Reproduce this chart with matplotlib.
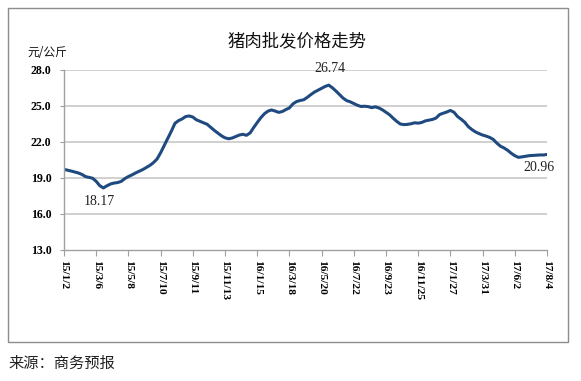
import matplotlib
matplotlib.use("Agg")
import matplotlib.pyplot as plt
from matplotlib.patches import Rectangle

tick_labels = ["15/1/2", "15/3/6", "15/5/8", "15/7/10", "15/9/11", "15/11/13",
               "16/1/15", "16/3/18", "16/5/20", "16/7/22", "16/9/23", "16/11/25",
               "17/1/27", "17/3/31", "17/6/2", "17/8/4"]

# weekly wholesale pork price (yuan/kg), 15/1/2 .. 17/8/4
prices = [
    19.72, 19.65, 19.58, 19.50, 19.42, 19.30, 19.12, 19.05, 18.98, 18.72,
    18.36, 18.17, 18.35, 18.50, 18.58, 18.62, 18.72, 18.95, 19.12, 19.26,
    19.42, 19.56, 19.70, 19.87, 20.05, 20.28, 20.58, 21.10, 21.70, 22.30,
    22.90, 23.55, 23.78, 23.92, 24.12, 24.17, 24.08, 23.85, 23.72, 23.60,
    23.48, 23.22, 22.97, 22.75, 22.52, 22.35, 22.27, 22.33, 22.46, 22.58,
    22.64, 22.56, 22.75, 23.20, 23.62, 24.02, 24.35, 24.57, 24.67, 24.58,
    24.47, 24.54, 24.70, 24.84, 25.18, 25.37, 25.46, 25.52, 25.72, 25.95,
    26.16, 26.32, 26.48, 26.63, 26.74, 26.52, 26.25, 25.95, 25.66, 25.45,
    25.35, 25.20, 25.06, 24.96, 24.98, 24.95, 24.86, 24.93, 24.84, 24.68,
    24.47, 24.27, 23.98, 23.72, 23.50, 23.45, 23.47, 23.52, 23.60, 23.57,
    23.63, 23.76, 23.82, 23.88, 24.00, 24.29, 24.40, 24.50, 24.63, 24.48,
    24.12, 23.90, 23.65, 23.28, 23.04, 22.84, 22.70, 22.58, 22.49, 22.38,
    22.21, 21.90, 21.65, 21.50, 21.31, 21.06, 20.86, 20.72, 20.76, 20.81,
    20.86, 20.88, 20.90, 20.92, 20.92, 20.96,
]
yticks = [13.0, 16.0, 19.0, 22.0, 25.0, 28.0]

W, H = 581, 381
fig = plt.figure(figsize=(W / 100, H / 100), dpi=100)

cjk = ["Noto Sans CJK SC", "DejaVu Sans"]
serif = "Liberation Serif"

# outer frame
fig.patches.append(Rectangle((8 / W, 1 - 342 / H), 560 / W, 334 / H,
                             transform=fig.transFigure, fill=False,
                             edgecolor="#8c8c8c", linewidth=1.0))

ax = fig.add_axes([64 / W, 1 - 250 / H, 483 / W, 180 / H])
x = list(range(len(prices)))
ax.plot(x, prices, color="#1f4a7f", linewidth=2.2, solid_capstyle="round",
        solid_joinstyle="round")

ax.set_xlim(0, len(prices) - 1)
ax.set_ylim(13, 28)
ax.set_yticks(yticks)
ax.set_yticklabels([f"{v:.1f}" for v in yticks], fontfamily=serif,
                   fontweight="bold", fontsize=8.6)
step = 9
ax.set_xticks(list(range(0, len(prices), step)))
ax.set_xticklabels(tick_labels, rotation=270, fontfamily=serif,
                   fontweight="bold", fontsize=8.2, va="top", ha="center")
ax.tick_params(axis="y", length=3, width=0.8, color="#a0a0a0", pad=6)
ax.tick_params(axis="x", length=4, width=0.8, color="#a0a0a0", pad=3)

for v in yticks[1:]:
    ax.axhline(v, color="#d0d0d0", linewidth=1.4, zorder=0)
for s in ["top", "right"]:
    ax.spines[s].set_visible(False)
for s in ["left", "bottom"]:
    ax.spines[s].set_color("#a0a0a0")
    ax.spines[s].set_linewidth(1.0)

# annotations
imax = prices.index(max(prices))
imin = prices.index(min(prices))
ax.annotate(f"{prices[imax]:.2f}", (imax, prices[imax]), xytext=(1, 7),
            textcoords="offset points", ha="center", va="bottom",
            fontfamily=serif, fontsize=10, color="#222222")
ax.annotate(f"{prices[imin]:.2f}", (imin, prices[imin]), xytext=(-3, -5),
            textcoords="offset points", ha="center", va="top",
            fontfamily=serif, fontsize=10, color="#222222")
ax.annotate(f"{prices[-1]:.2f}", (len(prices) - 1, prices[-1]), xytext=(-6, -5),
            textcoords="offset points", ha="center", va="top",
            fontfamily=serif, fontsize=10, color="#222222", annotation_clip=False)

fig.text(297 / W, 1 - 41 / H, "猪肉批发价格走势", family=cjk, fontsize=12.5,
         ha="center", va="center", color="#111111")
fig.text(27 / W, 1 - 52 / H, "元/公斤", family=cjk, fontsize=8.5,
         ha="left", va="center", color="#111111")
fig.text(8 / W, 1 - 363 / H, "来源：商务预报", family=cjk, fontsize=11,
         ha="left", va="center", color="#222222")

fig.savefig("out.png", dpi=100, facecolor="white")
